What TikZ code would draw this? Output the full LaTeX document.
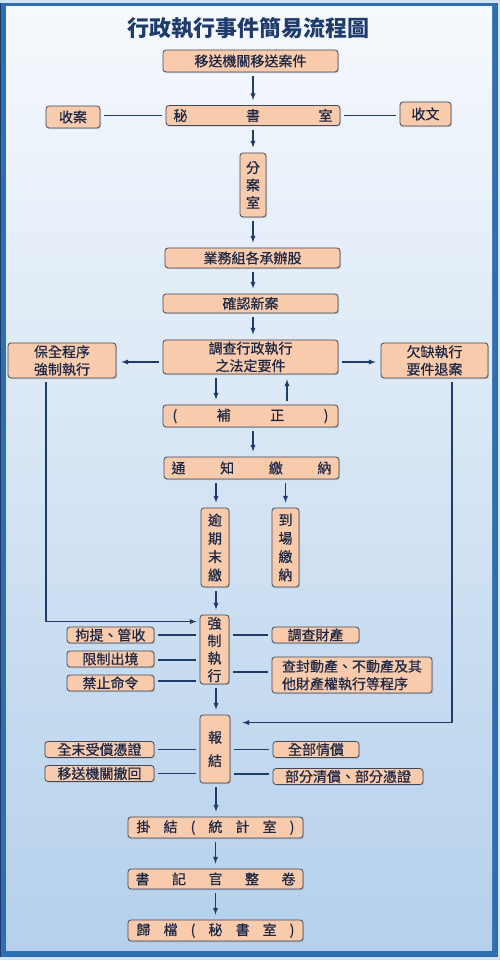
\documentclass[tikz,border=0pt]{standalone}
\usepackage{fontspec}
\setmainfont{Noto Sans CJK TC}
\newfontfamily\boxcjk[FakeBold=0.5]{Noto Sans CJK TC}
\usetikzlibrary{shadows}

\newcommand{\boxfont}{\boxcjk\fontsize{14bp}{17.5bp}\selectfont}
\newcommand{\spreadtxt}[2]{\makebox[#1]{#2}}

\tikzset{
  box/.style={draw=boxline, fill=boxfill, text=boxtext, line width=0.8bp,
    rounded corners=3bp, inner sep=0pt, align=center, font=\boxfont,
    drop shadow={shadow xshift=1bp, shadow yshift=-1.2bp, opacity=0.3}},
  link/.style={draw=linecol, line width=1.3bp, shorten <=4bp, shorten >=4bp},
  flow/.style={link, ->, shorten >=5bp},
}

\begin{document}
\begin{tikzpicture}[>=latex,line join=bevel,]
  \definecolor{boxfill}{rgb}{0.973,0.796,0.678}
  \definecolor{boxline}{rgb}{0.25,0.28,0.35}
  \definecolor{boxtext}{rgb}{0.11,0.15,0.27}
  \definecolor{linecol}{rgb}{0.12,0.23,0.41}
  \definecolor{framecol}{rgb}{0.18,0.43,0.70}
  \definecolor{bgtop}{rgb}{0.965,0.976,0.992}
  \definecolor{bgbot}{rgb}{0.706,0.816,0.922}
  \useasboundingbox (0bp,0bp) rectangle (500bp,960bp);
  % Frame
  \fill[bgbot!60!white] (0bp,0bp) rectangle (500bp,960bp);
  \fill[framecol] (0bp,3bp) rectangle (498bp,957bp);
  \draw[linecol, line width=1bp] (0.5bp,3bp) -- (0.5bp,957bp);
  \shade[top color=bgtop, bottom color=bgbot] (6bp,9bp) rectangle (492bp,953bp);
  % Title
  \node[text=linecol, font=\fontsize{22bp}{26bp}\selectfont\bfseries] (title) at (248bp,932bp) {行政執行事件簡易流程圖};
  % Node: sent
  \node[box, minimum width=175bp, minimum height=22bp] (sent) at (250.5bp,899bp) {移送機關移送案件};
  % Node: mishu
  \node[box, minimum width=174bp, minimum height=20bp] (mishu) at (253bp,844.5bp) {\spreadtxt{159bp}{秘\hfill 書\hfill 室}};
  % Node: shouan
  \node[box, minimum width=54bp, minimum height=22bp] (shouan) at (73bp,843bp) {收案};
  % Node: shouwen
  \node[box, minimum width=51bp, minimum height=24bp] (shouwen) at (425.5bp,846bp) {收文};
  % Node: fenan
  \node[box, minimum width=26bp, minimum height=64bp] (fenan) at (253bp,775bp) {分\\案\\室};
  % Node: yewu
  \node[box, minimum width=175bp, minimum height=20bp] (yewu) at (252.5bp,702bp) {業務組各承辦股};
  % Node: queren
  \node[box, minimum width=175bp, minimum height=19bp] (queren) at (250.5bp,656.5bp) {確認新案};
  % Node: diaocha
  \node[box, minimum width=175bp, minimum height=34bp] (diaocha) at (250.5bp,603bp) {調查行政執行\\之法定要件};
  % Node: baoquan
  \node[box, minimum width=108bp, minimum height=35bp] (baoquan) at (62bp,599.5bp) {保全程序\\強制執行};
  % Node: qianque
  \node[box, minimum width=107bp, minimum height=35bp] (qianque) at (434.5bp,599.5bp) {欠缺執行\\要件退案};
  % Node: buzheng
  \node[box, minimum width=175bp, minimum height=22bp] (buzheng) at (250.5bp,544bp) {\spreadtxt{156bp}{(\hfill 補\hfill 正\hfill )}};
  % Node: tongzhi
  \node[box, minimum width=175bp, minimum height=22bp] (tongzhi) at (251.5bp,492bp) {\spreadtxt{160bp}{通\hfill 知\hfill 繳\hfill 納}};
  % Node: yuqi
  \node[box, minimum width=28bp, minimum height=79bp, font=\boxcjk\fontsize{14bp}{18.3bp}\selectfont] (yuqi) at (215bp,412.5bp) {逾\\期\\末\\繳};
  % Node: daochang
  \node[box, minimum width=27bp, minimum height=79bp, font=\boxcjk\fontsize{14bp}{18.3bp}\selectfont] (daochang) at (285.5bp,412.5bp) {到\\場\\繳\\納};
  % Node: qiangzhi
  \node[box, minimum width=29bp, minimum height=69bp] (qiangzhi) at (214.5bp,310.5bp) {強\\制\\執\\行};
  % Node: juti
  \node[box, minimum width=87bp, minimum height=16bp] (juti) at (110.5bp,325bp) {拘提、管收};
  % Node: xianzhi
  \node[box, minimum width=87bp, minimum height=16bp] (xianzhi) at (110.5bp,301bp) {限制出境};
  % Node: jinzhi
  \node[box, minimum width=87bp, minimum height=16bp] (jinzhi) at (110.5bp,277bp) {禁止命令};
  % Node: caichan
  \node[box, minimum width=87bp, minimum height=16bp] (caichan) at (315.5bp,325bp) {調查財產};
  % Node: chafeng
  \node[box, minimum width=160bp, minimum height=36bp, align=left] (chafeng) at (352bp,285bp) {查封動產、不動產及其\\他財產權執行等程序};
  % Node: baojie
  \node[box, minimum width=30bp, minimum height=68bp] (baojie) at (215bp,211bp) {報\\[6bp]結};
  % Node: quanwei
  \node[box, minimum width=109bp, minimum height=16bp] (quanwei) at (99.5bp,210.5bp) {全末受償憑證};
  % Node: chehui
  \node[box, minimum width=109bp, minimum height=16bp] (chehui) at (99.5bp,186.5bp) {移送機關撤回};
  % Node: quanbu
  \node[box, minimum width=86bp, minimum height=16bp] (quanbu) at (316bp,210.5bp) {全部情償};
  % Node: bufen
  \node[box, minimum width=150bp, minimum height=16bp] (bufen) at (348bp,183.5bp) {部分清償、部分憑證};
  % Node: guajie
  \node[box, minimum width=175bp, minimum height=21bp] (guajie) at (215.5bp,132.5bp) {\spreadtxt{158bp}{掛\hfill 結\hfill (\hfill 統\hfill 計\hfill 室\hfill )}};
  % Node: shuji
  \node[box, minimum width=175bp, minimum height=20bp] (shuji) at (215.5bp,81bp) {\spreadtxt{160bp}{書\hfill 記\hfill 官\hfill 整\hfill 卷}};
  % Node: guidang
  \node[box, minimum width=175bp, minimum height=21bp] (guidang) at (215.5bp,29.5bp) {\spreadtxt{158bp}{歸\hfill 檔\hfill (\hfill 秘\hfill 書\hfill 室\hfill )}};

  % Edge: sent -> mishu
  \draw[flow] (sent.south -| mishu.north) -- (mishu.north);
  % Edge: shouan -- mishu
  \draw[link] (shouan.east |- mishu) -- (mishu.west);
  % Edge: mishu -- shouwen
  \draw[link] (mishu.east) -- (mishu.east -| shouwen.west);
  % Edge: mishu -> fenan
  \draw[flow] (mishu.south) -- (fenan.north);
  % Edge: fenan -> yewu
  \draw[flow] (fenan.south) -- (fenan.south |- yewu.north);
  % Edge: yewu -> queren
  \draw[flow] (yewu.south -| fenan) -- (queren.north -| fenan);
  % Edge: queren -> diaocha
  \draw[flow] (queren.south -| fenan) -- (diaocha.north -| fenan);
  % Edge: diaocha -> baoquan
  \draw[flow] ([yshift=-5bp]diaocha.west) -- ([yshift=-5bp]diaocha.west -| baoquan.east);
  % Edge: diaocha -> qianque
  \draw[flow] ([yshift=-5bp]diaocha.east) -- ([yshift=-5bp]diaocha.east -| qianque.west);
  % Edge: diaocha -> buzheng
  \draw[flow] ([xshift=1bp]diaocha.south -| yuqi) -- ([xshift=1bp]buzheng.north -| yuqi);
  % Edge: buzheng -> diaocha
  \draw[flow] ([xshift=1.5bp]buzheng.north -| daochang) -- ([xshift=1.5bp]diaocha.south -| daochang);
  % Edge: buzheng -> tongzhi
  \draw[flow] (buzheng.south -| fenan) -- (tongzhi.north -| fenan);
  % Edge: tongzhi -> yuqi
  \draw[flow] ([xshift=1bp]tongzhi.south -| yuqi) -- ([xshift=1bp]yuqi.north);
  % Edge: tongzhi -> daochang
  \draw[flow] (tongzhi.south -| daochang) -- (daochang.north);
  % Edge: yuqi -> qiangzhi
  \draw[flow] ([xshift=1bp]yuqi.south) -- ([xshift=1bp]qiangzhi.north -| yuqi);
  % Edge: baoquan -> qiangzhi
  \draw[flow, shorten >=3bp] ([xshift=-16bp]baoquan.south) |- ([yshift=-7bp]qiangzhi.north west);
  % Edge: qianque -> baojie
  \draw[flow, shorten >=12bp] ([xshift=17.5bp]qianque.south) |- ([yshift=-8bp]baojie.north east);
  % Edge: juti -- qiangzhi
  \draw[link] (juti.east) -- (juti.east -| qiangzhi.west);
  % Edge: xianzhi -- qiangzhi
  \draw[link] ([yshift=-1bp]xianzhi.east) -- ([yshift=-1bp]xianzhi.east -| qiangzhi.west);
  % Edge: jinzhi -- qiangzhi
  \draw[link] ([yshift=2bp]jinzhi.east) -- ([yshift=2bp]jinzhi.east -| qiangzhi.west);
  % Edge: qiangzhi -- caichan
  \draw[link] (qiangzhi.east |- caichan) -- (caichan.west);
  % Edge: qiangzhi -- chafeng
  \draw[link] ([yshift=3bp]qiangzhi.east |- chafeng) -- ([yshift=3bp]chafeng.west);
  % Edge: qiangzhi -> baojie
  \draw[flow] ([xshift=1.5bp]qiangzhi.south) -- ([xshift=1.5bp]baojie.north -| qiangzhi);
  % Edge: quanwei -- baojie
  \draw[link] (quanwei.east) -- (quanwei.east -| baojie.west);
  % Edge: chehui -- baojie
  \draw[link] (chehui.east) -- (chehui.east -| baojie.west);
  % Edge: baojie -- quanbu
  \draw[link] (baojie.east |- quanbu) -- (quanbu.west);
  % Edge: baojie -- bufen
  \draw[link] ([yshift=2.5bp]baojie.east |- bufen) -- ([yshift=2.5bp]bufen.west);
  % Edge: baojie -> guajie
  \draw[flow] ([xshift=1bp]baojie.south) -- ([xshift=1bp]guajie.north -| baojie);
  % Edge: guajie -> shuji
  \draw[flow] ([xshift=0.5bp]guajie.south -| baojie) -- ([xshift=0.5bp]shuji.north -| baojie);
  % Edge: shuji -> guidang
  \draw[flow] ([xshift=0.5bp]shuji.south -| baojie) -- ([xshift=0.5bp]guidang.north -| baojie);
%
\end{tikzpicture}
\end{document}
